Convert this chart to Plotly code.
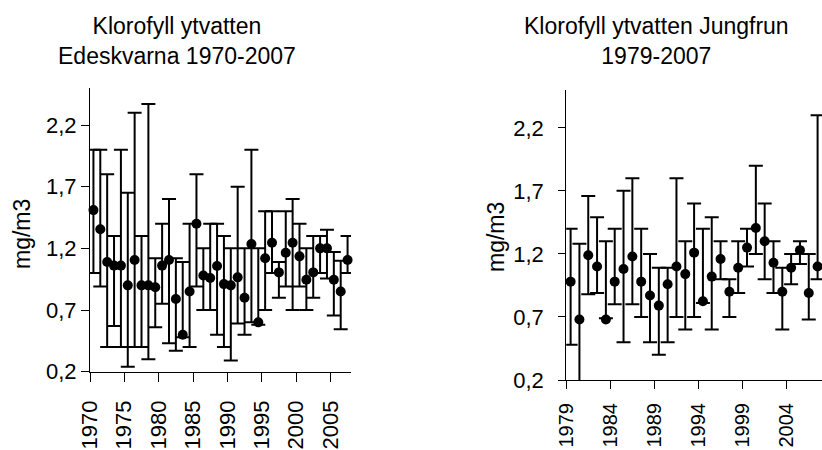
import plotly.graph_objects as go

# ---------------- data ----------------
years_e = list(range(1970, 2008))
mean_e = [1.51, 1.355, 1.09, 1.06, 1.06, 0.90, 1.105, 0.90, 0.90, 0.885,
          1.06, 1.105, 0.79, 0.50, 0.85, 1.40, 0.98, 0.96, 1.057, 0.91,
          0.90, 0.965, 0.80, 1.235, 0.60, 1.12, 1.245, 1.005, 1.165, 1.245,
          1.135, 0.945, 1.005, 1.20, 1.20, 0.945, 0.85, 1.105]
max_e = [2.0, 2.0, 1.80, 1.30, 2.0, 1.65, 2.30, 1.30, 2.37, 1.12,
         1.40, 1.60, 1.12, 1.09, 1.40, 1.80, 1.20, 1.40, 1.40, 1.30,
         1.20, 1.70, 1.20, 2.0, 1.20, 1.50, 1.50, 1.09, 1.50, 1.60,
         1.40, 1.20, 1.30, 1.30, 1.35, 1.17, 1.10, 1.30]
min_e = [1.0, 0.89, 0.40, 0.57, 0.40, 0.24, 0.40, 0.40, 0.30, 0.56,
         0.75, 0.43, 0.37, 0.48, 0.40, 0.89, 0.70, 0.70, 0.50, 0.40,
         0.29, 0.59, 0.50, 0.60, 0.58, 0.70, 1.0, 0.80, 0.89, 0.70,
         0.89, 0.70, 0.80, 1.0, 0.955, 0.655, 0.545, 1.0]

years_j = list(range(1979, 2008))
mean_j = [0.98, 0.68, 1.19, 1.10, 0.68, 0.98, 1.08, 1.18, 0.98, 0.87,
          0.79, 0.96, 1.10, 1.04, 1.21, 0.825, 1.02, 1.16, 0.90, 1.09,
          1.25, 1.405, 1.30, 1.13, 0.90, 1.09, 1.23, 0.89, 1.10]
max_j = [1.40, 1.28, 1.66, 1.49, 1.30, 1.40, 1.70, 1.80, 1.40, 1.20,
         1.09, 1.09, 1.80, 1.30, 1.60, 1.40, 1.49, 1.30, 1.00, 1.30,
         1.40, 1.90, 1.60, 1.30, 1.09, 1.20, 1.30, 1.20, 2.30]
min_j = [0.48, 0.15, 0.88, 0.89, 0.69, 0.80, 0.50, 0.80, 0.70, 0.50,
         0.40, 0.50, 0.70, 0.60, 0.70, 0.81, 0.60, 1.00, 0.70, 0.89,
         1.10, 1.20, 1.00, 0.89, 0.60, 0.96, 1.12, 0.68, 1.00]

y_tick_vals = [0.2, 0.7, 1.2, 1.7, 2.2]
y_tick_text = ["0,2", "0,7", "1,2", "1,7", "2,2"]
x_labels_e = [1970, 1975, 1980, 1985, 1990, 1995, 2000, 2005]
x_labels_j = [1979, 1984, 1989, 1994, 1999, 2004]

title_e = ["Klorofyll ytvatten", "Edeskvarna 1970-2007"]
title_j = ["Klorofyll ytvatten Jungfrun", "1979-2007"]
y_title = "mg/m3"

FONT = "Liberation Sans, Arial, sans-serif"
W, H = 822, 450


def trace(x, m, lo, hi, xa, ya):
    return go.Scatter(
        x=x, y=m, mode="markers", xaxis=xa, yaxis=ya,
        marker=dict(color="black", size=10),
        error_y=dict(type="data", symmetric=False,
                     array=[h - v for h, v in zip(hi, m)],
                     arrayminus=[v - l for v, l in zip(m, lo)],
                     color="black", thickness=2, width=7),
        showlegend=False, cliponaxis=False,
    )


fig = go.Figure()
fig.add_trace(trace(years_e, mean_e, min_e, max_e, "x", "y"))
fig.add_trace(trace(years_j, mean_j, min_j, max_j, "x2", "y2"))

axis_common = dict(showline=True, linecolor="black", linewidth=1, automargin=False,
                   ticks="outside", tickcolor="black", showgrid=False,
                   zeroline=False)
tick_font = dict(family=FONT, size=22, color="black")

fig.update_layout(
    width=W, height=H, margin=dict(l=0, r=0, t=0, b=0, autoexpand=False),
    paper_bgcolor="white", plot_bgcolor="white",
    font=dict(family=FONT, color="black"),
    xaxis=dict(domain=[90 / W, 351 / W], anchor="y",
               range=[years_e[0] - 0.5, years_e[-1] + 0.5],
               tickvals=[v - 0.5 for v in x_labels_e],
               ticktext=[str(v) for v in x_labels_e], tickfont=tick_font,
               tickangle=-90, ticklen=9, ticklabelstandoff=10, **axis_common),
    yaxis=dict(domain=[(H - 371.7) / H, (H - 88) / H], anchor="x",
               range=[0.2, 2.5], tickvals=y_tick_vals, ticktext=y_tick_text,
               tickfont=tick_font, ticklen=8, ticklabelstandoff=0, **axis_common),
    xaxis2=dict(domain=[566.2 / W, 1.0], anchor="y2",
                range=[years_j[0] - 0.5, years_j[-1] + 0.5],
                tickvals=[v - 0.5 for v in x_labels_j],
                ticktext=[str(v) for v in x_labels_j],
                tickfont=dict(family=FONT, size=20, color="black"),
                tickangle=-90, ticklen=8, ticklabelstandoff=6, **axis_common),
    yaxis2=dict(domain=[(H - 380) / H, (H - 90) / H], anchor="x2",
                range=[0.2, 2.5], tickvals=y_tick_vals, ticktext=y_tick_text,
                tickfont=tick_font, ticklen=7, ticklabelstandoff=10, **axis_common),
)

ann = []
for lines, cx in ((title_e, 177), (title_j, 656)):
    ann.append(dict(text="<br>".join(lines), x=cx / W, y=1 - 11 / H,
                    xref="paper", yref="paper", xanchor="center", yanchor="top",
                    showarrow=False, align="center",
                    font=dict(family=FONT, size=23, color="black")))
for cx, cy in ((22, 234), (496, 237)):
    ann.append(dict(text=y_title, x=cx / W, y=1 - cy / H, xref="paper", yref="paper",
                    xanchor="center", yanchor="middle", textangle=-90, showarrow=False,
                    font=dict(family=FONT, size=23, color="black")))
fig.update_layout(annotations=ann)

fig.write_html("out.html")
